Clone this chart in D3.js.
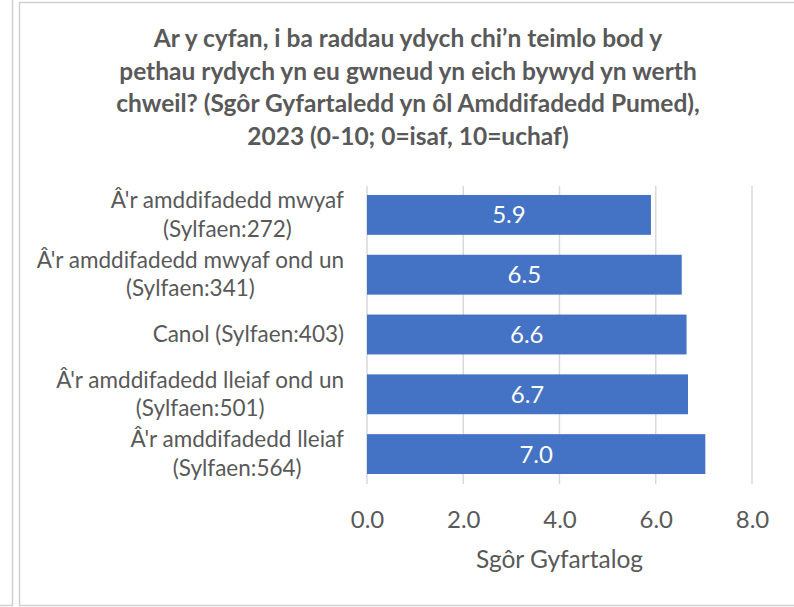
<!DOCTYPE html>
<html><head><meta charset="utf-8">
<script src="https://cdn.jsdelivr.net/npm/d3@7"></script>
<style>body{margin:0;background:#fff}svg{display:block}</style>
</head><body>
<script>
const titleLines = [
  "Ar y cyfan, i ba raddau ydych chi\u2019n teimlo bod y",
  "pethau rydych yn eu gwneud yn eich bywyd yn werth",
  "chweil? (Sgôr Gyfartaledd yn ôl Amddifadedd Pumed),",
  "2023 (0-10; 0=isaf, 10=uchaf)"
];
const categories = [
  ["Â'r amddifadedd mwyaf", "(Sylfaen:272)"],
  ["Â'r amddifadedd mwyaf ond un", "(Sylfaen:341)"],
  ["Canol (Sylfaen:403)"],
  ["Â'r amddifadedd lleiaf ond un", "(Sylfaen:501)"],
  ["Â'r amddifadedd lleiaf", "(Sylfaen:564)"]
];
const values = [5.9, 6.54, 6.64, 6.67, 7.03];
const xTicks = [0, 2, 4, 6, 8];
const xTitle = "Sgôr Gyfartalog";

const W = 794, H = 607;
const font = "Lato, 'Open Sans', sans-serif";
const grey = "#595959";
const svg = d3.select("body").append("svg").attr("width", W).attr("height", H);

// frames
svg.append("rect").attr("x", -10).attr("y", -10).attr("width", 22.5).attr("height", 615.5)
  .attr("fill", "none").attr("stroke", "#d0d0d0").attr("stroke-width", 1.5);
svg.append("rect").attr("x", 19.5).attr("y", 2.5).attr("width", 800).attr("height", 603)
  .attr("fill", "#fff").attr("stroke", "#d0d0d0").attr("stroke-width", 1.5);

// title
svg.append("g").selectAll("text").data(titleLines).join("text")
  .attr("x", 408).attr("y", (d, i) => 47 + i * 32.7)
  .attr("text-anchor", "middle").attr("font-family", font).attr("font-weight", "bold")
  .attr("font-size", 24.5).attr("fill", grey).text(d => d);

const x = d3.scaleLinear().domain([0, 8]).range([367, 752]);
const y = d3.scaleBand().domain(d3.range(categories.length)).range([185, 484]).paddingInner(1/3).paddingOuter(1/6);

// grid
svg.append("g").selectAll("line").data(xTicks).join("line")
  .attr("x1", d => x(d)).attr("x2", d => x(d)).attr("y1", 186).attr("y2", 484)
  .attr("stroke", "#d9d9d9").attr("stroke-width", 1.5);

// bars
svg.append("g").selectAll("rect").data(values).join("rect")
  .attr("x", x(0)).attr("y", (d, i) => y(i)).attr("width", d => x(d) - x(0))
  .attr("height", y.bandwidth()).attr("fill", "#4472C4");

// data labels
svg.append("g").selectAll("text").data(values).join("text")
  .attr("x", d => (x(0) + x(d)) / 2).attr("y", (d, i) => y(i) + y.bandwidth() / 2 + 8.5)
  .attr("text-anchor", "middle").attr("font-family", font).attr("font-size", 24)
  .attr("fill", "#fff").text(d => d.toFixed(1));

// x axis tick labels
const xAxis = d3.axisBottom(x).tickValues(xTicks).tickFormat(d => d.toFixed(1)).tickSize(0).tickPadding(0);
const gx = svg.append("g").attr("transform", "translate(0,511)").call(xAxis);
gx.select(".domain").remove();
gx.selectAll("text").attr("font-family", font).attr("font-size", 24).attr("fill", grey)
  .attr("dy", null).attr("y", 16.5);

// axis title
svg.append("text").attr("x", (x(0) + x(8)) / 2).attr("y", 568).attr("text-anchor", "middle")
  .attr("font-family", font).attr("font-size", 24.5).attr("fill", grey).text(xTitle);

// category labels (block right-aligned, lines centered)
const labelRight = 344;
const cg = svg.append("g");
categories.forEach((lines, i) => {
  const cy = y(i) + y.bandwidth() / 2;
  const g = cg.append("g");
  const texts = g.selectAll("text").data(lines).join("text")
    .attr("font-family", font).attr("font-size", 22.5).attr("fill", grey)
    .attr("text-anchor", "middle")
    .attr("y", (d, j) => cy + 7.5 + (j - (lines.length - 1) / 2) * 28.5)
    .text(d => d);
  let maxW = 0;
  texts.each(function () { maxW = Math.max(maxW, this.getComputedTextLength()); });
  texts.attr("x", labelRight - maxW / 2);
});
</script>
</body></html>
